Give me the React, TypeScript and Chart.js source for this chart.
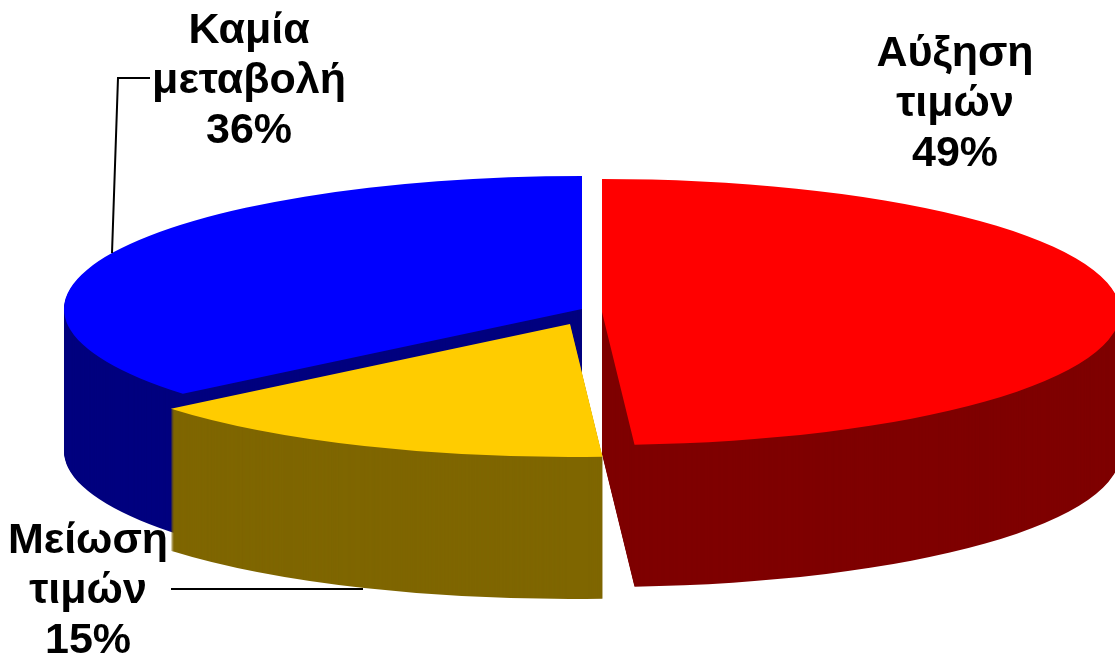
import { useEffect, useRef } from "react";
import { Chart, registerables } from "chart.js";

Chart.register(...registerables);

// ---- data ----
const categories = ["Αύξηση τιμών", "Μείωση τιμών", "Καμία μεταβολή"];
const values = [49, 15, 36];

// ---- styles ----
const topColors = ["#FF0000", "#FFCC00", "#0000FF"];
const sideColors = ["#7F0000", "#7F6600", "#00007F"];

// ---- layout (screen pixels) ----
const CENTER_X = 582;
const CENTER_Y = 309;
const RADIUS_X = 518;
const RADIUS_Y = 133;
const DEPTH = 142;
const EXPLODE = [
  [20, 3],
  [-12, 15],
  [0, 0],
];
const LABEL_FONT = "bold 43px 'Liberation Sans', Arial, sans-serif";
const LABEL_LINE = 50;
const LABEL_POS = [
  [955, 66],
  [88, 553],
  [249, 43],
];
const LEADERS = [
  null,
  [
    [171, 589],
    [363, 589],
  ],
  [
    [150, 78],
    [118, 78],
    [112, 253],
  ],
];

const pie3d = {
  id: "pie3d",
  beforeDatasetsDraw(chart: any) {
    const meta = chart.getDatasetMeta(0);
    const arcs = meta.data as any[];
    if (!arcs.length) return false;
    const ctx: CanvasRenderingContext2D = chart.ctx;
    const R = arcs[0].outerRadius;
    const ox = arcs[0].x;
    const oy = arcs[0].y;
    const sx = RADIUS_X / R;
    const sy = RADIUS_Y / R;
    const drawArc = (arc: any, i: number, dy: number, color: string) => {
      const fake = Object.create(arc);
      fake.options = Object.assign({}, arc.options, {
        backgroundColor: color,
        borderWidth: 0,
        offset: 0,
      });
      ctx.save();
      ctx.translate(CENTER_X + EXPLODE[i][0], CENTER_Y + EXPLODE[i][1] + dy);
      ctx.scale(sx, sy);
      ctx.translate(-ox, -oy);
      fake.draw(ctx);
      ctx.restore();
    };
    for (let d = DEPTH; d >= 1; d--) {
      arcs.forEach((arc, i) => drawArc(arc, i, d, sideColors[i]));
    }
    arcs.forEach((arc, i) => drawArc(arc, i, 0, topColors[i]));
    return false;
  },
  afterDraw(chart: any) {
    const ctx: CanvasRenderingContext2D = chart.ctx;
    ctx.save();
    ctx.strokeStyle = "#000000";
    ctx.lineWidth = 2;
    LEADERS.forEach((pts) => {
      if (!pts) return;
      ctx.beginPath();
      pts.forEach((p, k) => (k ? ctx.lineTo(p[0], p[1]) : ctx.moveTo(p[0], p[1])));
      ctx.stroke();
    });
    ctx.fillStyle = "#000000";
    ctx.font = LABEL_FONT;
    ctx.textAlign = "center";
    ctx.textBaseline = "alphabetic";
    const labels = chart.data.labels as string[];
    const vals = chart.data.datasets[0].data as number[];
    labels.forEach((lab, i) => {
      const lines = [...lab.split(" "), `${vals[i]}%`];
      lines.forEach((t, k) => {
        ctx.fillText(t, LABEL_POS[i][0], LABEL_POS[i][1] + k * LABEL_LINE);
      });
    });
    ctx.restore();
  },
};

export default function App() {
  const ref = useRef<HTMLCanvasElement | null>(null);
  useEffect(() => {
    document.body.style.margin = "0";
    if (!ref.current) return;
    const chart = new Chart(ref.current, {
      type: "pie",
      data: {
        labels: categories,
        datasets: [
          {
            data: values,
            backgroundColor: topColors,
            borderWidth: 0,
          },
        ],
      },
      options: {
        responsive: false,
        animation: false,
        events: [],
        layout: { padding: 0 },
        plugins: {
          legend: { display: false },
          tooltip: { enabled: false },
        },
      },
      plugins: [pie3d],
    });
    return () => chart.destroy();
  }, []);
  return (
    <div style={{ width: 1115, height: 661, background: "#ffffff" }}>
      <canvas ref={ref} width={1115} height={661} />
    </div>
  );
}
